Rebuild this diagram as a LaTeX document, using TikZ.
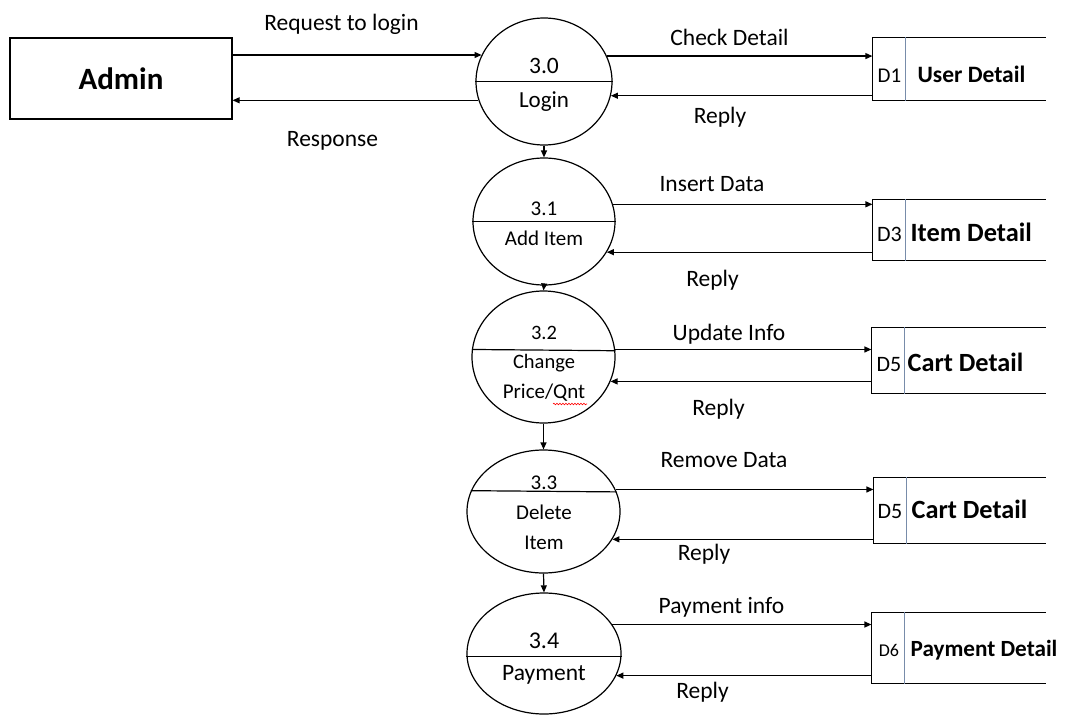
\documentclass[tikz,border=0pt]{standalone}
\usepackage{fontspec}
\setmainfont{Carlito}
\usetikzlibrary{arrows.meta,shapes.geometric,decorations.pathmorphing}
\begin{document}
\begin{tikzpicture}[x=1pt,y=-1pt,line width=1.2pt,
  flow/.style={-{Triangle[length=7pt,width=6pt]}},
  proc/.style={ellipse,draw,inner sep=0pt},
  store/.style={draw=none,inner sep=0pt,minimum width=172pt},
  sdiv/.style={draw={rgb,255:red,120;green,140;blue,170},line width=0.6pt},
  txt/.style={inner sep=0pt,anchor=base,font=\fontsize{#1}{#1}\selectfont},
  btxt/.style={inner sep=0pt,anchor=base west,font=\bfseries\fontsize{#1}{#1}\selectfont},
  squig/.style={draw=red,line width=0.6pt,decorate,decoration={snake,amplitude=0.8pt,segment length=3pt}}]
\useasboundingbox (0,0) rectangle (1065,715);

% external entity
\node[draw,minimum width=222pt,minimum height=81pt,inner sep=0pt,
  font=\bfseries\fontsize{31}{31}\selectfont] (admin) at (121,78.5) {Admin};

% processes
\node[proc,minimum width=136pt,minimum height=127pt] (c0) at (544,81.5) {};
\node[proc,minimum width=142pt,minimum height=127pt] (c1) at (544,221.5) {};
\node[proc,minimum width=143pt,minimum height=132pt] (c2) at (543.5,357) {};
\node[proc,minimum width=153pt,minimum height=123pt] (c3) at (543.5,511.5) {};
\node[proc,minimum width=154pt,minimum height=121pt] (c4) at (544,653.5) {};

\draw (c0.west) -- (c0.east);
\draw (c1.west) -- (c1.east);
\draw (c2.174.4) -- (c2.5.6);
\draw (c3.164.7) -- (c3.15.3);
\draw (c4.182.2) -- (c4.-2.2);

\node[txt=23.5] (t0a) at (544,73) {3.0};
\node[txt=23] (t0b) at (544,107) {Login};
\node[txt=21] (t1a) at (544,215) {3.1};
\node[txt=21] (t1b) at (544,245) {Add Item};
\node[txt=20.5] (t2a) at (544,339) {3.2};
\node[txt=20.5] (t2b) at (544,368) {Change};
\node[txt=21] (t2c) at (544,398) {Price/Qnt};
\node[txt=21] (t3a) at (544,489) {3.3};
\node[txt=21] (t3b) at (544,519) {Delete};
\node[txt=21] (t3c) at (544,549) {Item};
\node[txt=24] (t4a) at (544,648) {3.4};
\node[txt=23.5] (t4b) at (544,680) {Payment};
\draw[squig] (553,404) -- (587,404);

% data stores
\node[store,minimum height=62pt] (d1) at (959,69) {};
\node[store,minimum height=60pt] (d3) at (959,230) {};
\node[store,minimum height=65pt,minimum width=173pt] (d5a) at (958.5,360.5) {};
\node[store,minimum height=65pt,minimum width=171pt] (d5b) at (959.5,510.5) {};
\node[store,minimum height=70pt,minimum width=173pt] (d6) at (958.5,648) {};
\foreach \d in {d1,d3,d5a,d5b,d6}{
  \draw (\d.north east) -- (\d.north west) -- (\d.south west) -- (\d.south east);
  \draw[sdiv] ([xshift=33pt]\d.north west) -- ([xshift=33pt]\d.south west);
}
\node[txt=21] (d1id) at (889.5,82) {D1};
\node[btxt=23.5] (d1nm) at (917,82) {User Detail};
\node[txt=22] (d3id) at (889.5,241.5) {D3};
\node[btxt=26.4] (d3nm) at (910,241.5) {Item Detail};
\node[txt=22] (d5aid) at (889,371.5) {D5};
\node[btxt=26.3] (d5anm) at (907,371.5) {Cart Detail};
\node[txt=22] (d5bid) at (890,518) {D5};
\node[btxt=26.3] (d5bnm) at (911,518) {Cart Detail};
\node[txt=18] (d6id) at (889,656) {D6};
\node[btxt=23.2] (d6nm) at (910,656) {Payment Detail};

% flows admin <-> login
\draw[flow] (c0.157.2 -| admin.east) -- (c0.157.2);
\draw[flow] (c0.196.3) -- (c0.196.3 -| admin.east);
\node[txt=23.5] (l1) at (341.5,30.7) {Request to login};
\node[txt=23.5] (l2) at (332.5,146.7) {Response};

% flows processes <-> stores
\draw[flow] (c0.22.8) -- (c0.22.8 -| d1.west);
\draw[flow] (c0.-12.8 -| d1.west) -- (c0.-12.8);
\draw[flow] (c1.14.0) -- (c1.14.0 -| d3.west);
\draw[flow] (c1.-26.6 -| d3.west) -- (c1.-26.6);
\draw[flow] (c2.6.4) -- (c2.6.4 -| d5a.west);
\draw[flow] (c2.-20.6 -| d5a.west) -- (c2.-20.6);
\draw[flow] (c3.17.0) -- (c3.17.0 -| d5b.west);
\draw[flow] (c3.-22.2 -| d5b.west) -- (c3.-22.2);
\draw[flow] (c4.23.2) -- (c4.23.2 -| d6.west);
\draw[flow] (c4.-17.9 -| d6.west) -- (c4.-17.9);

\node[txt=23.5] (l3) at (729.5,45) {Check Detail};
\node[txt=23.5] (l4) at (720,123) {Reply};
\node[txt=23.5] (l5) at (712,191.7) {Insert Data};
\node[txt=23.5] (l6) at (712.5,286.7) {Reply};
\node[txt=23.5] (l7) at (729,340) {Update Info};
\node[txt=23.5] (l8) at (718.5,415) {Reply};
\node[txt=23.5] (l9) at (724,467) {Remove Data};
\node[txt=23.5] (l10) at (704,560) {Reply};
\node[txt=23.5] (l11) at (721.5,613) {Payment info};
\node[txt=23.5] (l12) at (702.5,698) {Reply};

% flows between processes
\draw[flow] (c0.south) -- (c1.north);
\draw[flow] (c1.south) -- (c2.north);
\draw[flow] (c2.south) -- (c3.north);
\draw[flow] (c3.south) -- (c4.north);
\end{tikzpicture}
\end{document}
